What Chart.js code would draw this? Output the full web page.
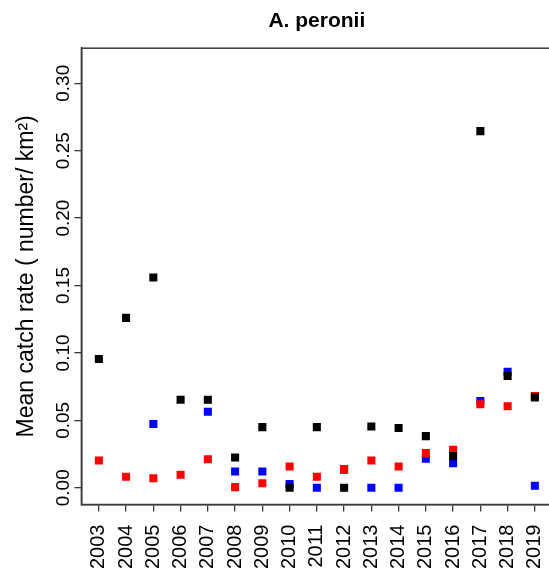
<!DOCTYPE html>
<html>
<head>
<meta charset="utf-8">
<script src="https://cdn.jsdelivr.net/npm/chart.js@4/dist/chart.umd.min.js"></script>
<style>
    html, body { margin: 0; padding: 0; background: #fff; overflow: hidden; }
    /* plot box runs slightly past the right edge of the window, as in the original */
    #wrap { width: 558px; height: 572px; }
</style>
</head>
<body>
<div id="wrap"><canvas id="catchChart"></canvas></div>
<script>
// Survey years and mean catch rates
const years = [2003, 2004, 2005, 2006, 2007, 2008, 2009, 2010, 2011, 2012, 2013, 2014, 2015, 2016, 2017, 2018, 2019];
const blackRates = [0.0955, 0.126, 0.156, 0.0653, 0.0653, 0.0225, 0.045, 0.0, 0.045, 0.0, 0.0455, 0.0443, 0.0383, 0.0235, 0.2645, 0.0829, 0.067];
const redRates = [0.0203, 0.0082, 0.0071, 0.0097, 0.0212, 0.0005, 0.0034, 0.0158, 0.0082, 0.014, 0.0203, 0.0158, 0.0257, 0.0282, 0.0619, 0.0604, 0.068];
const blueRates = [null, null, 0.0473, null, 0.0564, 0.0121, 0.0121, 0.0027, 0.0, 0.0134, 0.0, 0.0, 0.0215, 0.0183, 0.0643, 0.0861, 0.0015];
const yTicks = [0, 0.05, 0.10, 0.15, 0.20, 0.25, 0.30];

const FONT = "'Liberation Sans', Arial, sans-serif";
const AXIS_COLOR = '#3a3a3a';

function toPoints(values) {
    const pts = [];
    values.forEach((v, i) => {
        if (v !== null) pts.push({ x: years[i], y: v });
    });
    return pts;
}

function makeSeries(values, color) {
    return {
        data: toPoints(values),
        pointStyle: 'rect',
        pointRadius: 5.7,
        pointBorderWidth: 0,
        backgroundColor: color,
        borderColor: color,
        showLine: false
    };
}

// R style box around the plot region
const boxPlugin = {
    id: 'plotBox',
    afterDraw(chart) {
        const a = chart.chartArea;
        const ctx = chart.ctx;
        ctx.save();
        ctx.strokeStyle = AXIS_COLOR;
        ctx.lineWidth = 1.5;
        ctx.strokeRect(a.left, a.top, a.right - a.left, a.bottom - a.top);
        ctx.restore();
    }
};

new Chart(document.getElementById('catchChart'), {
    type: 'scatter',
    data: {
        datasets: [
            makeSeries(blackRates, '#000000'),
            makeSeries(redRates, '#ff0000'),
            makeSeries(blueRates, '#0000ff')
        ]
    },
    options: {
        responsive: true,
        maintainAspectRatio: false,
        animation: false,
        events: [],
        layout: { padding: { left: 13, right: 0, top: 0, bottom: -10 } },
        plugins: {
            legend: { display: false },
            tooltip: { enabled: false },
            title: {
                display: true,
                text: 'A. peronii',
                fullSize: false,
                color: '#000',
                font: { family: FONT, size: 21, weight: 'bold' },
                padding: { top: 9, bottom: 14 }
            }
        },
        scales: {
            x: {
                type: 'linear',
                min: 2002.36,
                max: 2019.64,
                afterBuildTicks(scale) {
                    scale.ticks = years.map(v => ({ value: v }));
                },
                afterFit(scale) {
                    scale.paddingLeft = 0;
                    scale.paddingRight = 0;
                },
                ticks: {
                    autoSkip: false,
                    minRotation: 90,
                    maxRotation: 90,
                    padding: 13,
                    color: '#000',
                    font: { family: FONT, size: 20 },
                    callback: v => String(v)
                },
                grid: {
                    drawOnChartArea: false,
                    drawTicks: true,
                    tickLength: 7,
                    color: AXIS_COLOR,
                    lineWidth: 1.3
                },
                border: { display: true, color: AXIS_COLOR, width: 1.5 }
            },
            y: {
                min: -0.0124,
                max: 0.326,
                afterBuildTicks(scale) {
                    scale.ticks = yTicks.map(v => ({ value: v }));
                },
                ticks: {
                    minRotation: 90,
                    maxRotation: 90,
                    crossAlign: 'center',
                    padding: -8,
                    color: '#000',
                    font: { family: FONT, size: 19 },
                    callback: v => v.toFixed(2)
                },
                grid: {
                    drawOnChartArea: false,
                    drawTicks: true,
                    tickLength: 7,
                    color: AXIS_COLOR,
                    lineWidth: 1.3
                },
                border: { display: true, color: AXIS_COLOR, width: 1.5 },
                title: {
                    display: true,
                    text: 'Mean catch rate ( number/ km²)',
                    color: '#000',
                    font: { family: FONT, size: 23 },
                    padding: { top: 0, bottom: 27 }
                }
            }
        }
    },
    plugins: [boxPlugin]
});
</script>
</body>
</html>
